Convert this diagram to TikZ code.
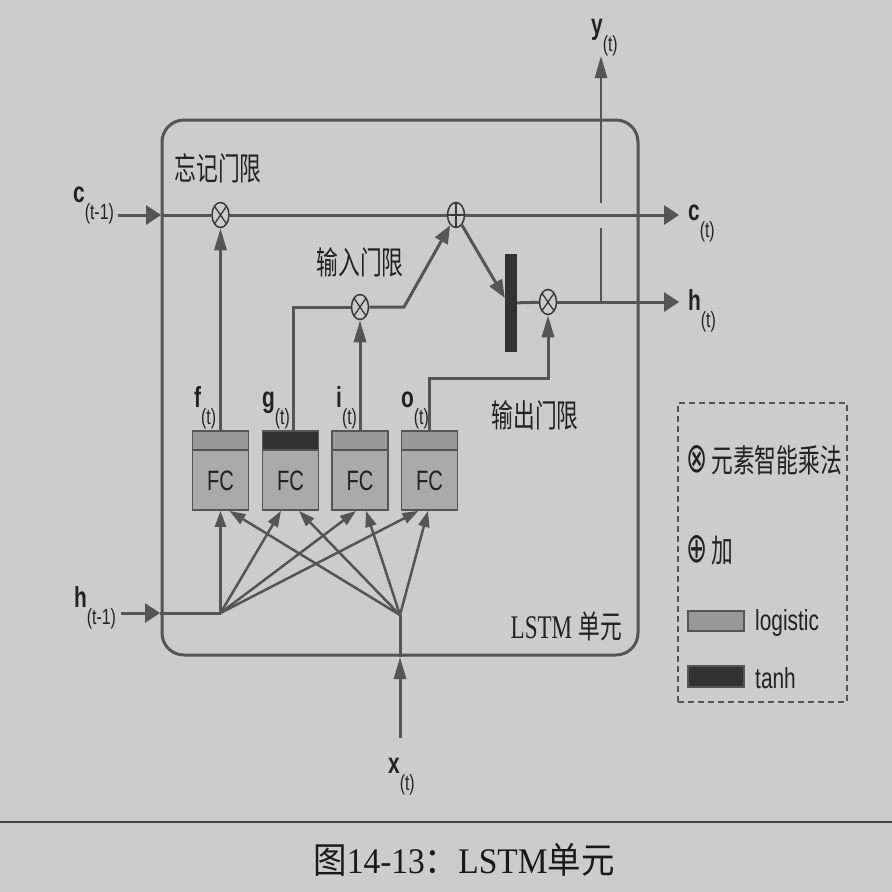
\documentclass[tikz,border=0pt]{standalone}
\usepackage{fontspec}
\usetikzlibrary{arrows.meta,shapes.geometric}
\setmainfont{Liberation Sans}[FakeStretch=0.72]
\newfontfamily\cjk{Noto Sans CJK SC}[FakeStretch=0.68]
\newfontfamily\cjkcap{Noto Sans CJK SC}[FakeStretch=0.93]
\newfontfamily\serifcap{Liberation Serif}[FakeStretch=0.93]
\newfontfamily\serifin{Liberation Serif}[FakeStretch=0.7]
\newfontfamily\symf{DejaVu Sans}[FakeStretch=0.6]
\definecolor{bgc}{RGB}{204,204,204}
\definecolor{lnc}{RGB}{85,85,85}
\definecolor{txc}{RGB}{34,34,34}
\definecolor{fcbody}{RGB}{170,170,170}
\definecolor{logc}{RGB}{152,152,152}
\definecolor{tanhc}{RGB}{50,50,50}
\newcommand\vlab[2]{{\fontsize{29}{29}\selectfont\bfseries #1}\raisebox{-17pt}{\fontsize{22}{22}\selectfont(#2)}}
\newcommand\fcbox[3]{%
  \node[fcstyle] (#1) at (#2,470.5) {};
  \node[bandstyle, fill=#3] (#1b) at (#2,440.5) {};
  \node[fctext] (#1t) at (#2,481) {FC};
}
\begin{document}
\begin{tikzpicture}[x=1pt,y=-1pt,
  ln/.style={line width=3pt, draw=lnc},
  harr/.style={ln, -{Triangle[length=15pt,width=19pt]}},
  varr/.style={ln, -{Triangle[length=22pt,width=12pt]}},
  darr/.style={ln, -{Triangle[length=18pt,width=14pt]}},
  farr/.style={line width=2.5pt, draw=lnc, -{Triangle[length=16pt,width=11pt]}},
  mul/.style={ellipse, draw=txc!90, line width=1.5pt, fill=bgc, minimum width=17pt, minimum height=25pt, inner sep=0pt,
    path picture={\draw[line width=1.3pt, txc!90] (path picture bounding box.north west) -- (path picture bounding box.south east)
      (path picture bounding box.north east) -- (path picture bounding box.south west);}},
  pls/.style={ellipse, draw=txc!90, line width=1.5pt, fill=bgc, minimum width=17pt, minimum height=25pt, inner sep=0pt,
    path picture={\draw[line width=1.3pt, txc!90] (path picture bounding box.north) -- (path picture bounding box.south)
      (path picture bounding box.west) -- (path picture bounding box.east);}},
  fcstyle/.style={draw=lnc, line width=1.8pt, fill=fcbody, minimum width=56pt, minimum height=79pt, inner sep=0pt},
  bandstyle/.style={draw=lnc, line width=1.8pt, minimum width=56pt, minimum height=19pt, inner sep=0pt},
  fctext/.style={inner sep=0pt, text=txc, font=\fontsize{28}{28}\selectfont},
  lbl/.style={inner sep=0pt, text=txc},
  cjkl/.style={inner sep=0pt, text=txc, font=\cjk\fontsize{32}{32}\selectfont}
]
\useasboundingbox (0,0) rectangle (892,892);
\fill[bgc] (0,0) rectangle (892,892);

% LSTM cell frame
\node[draw=lnc, line width=3pt, rounded corners=22pt, minimum width=476pt, minimum height=535pt, inner sep=0pt] (cell) at (400,387.5) {};

% FC boxes
\fcbox{fcf}{220.5}{logc}
\fcbox{fcg}{290.5}{tanhc}
\fcbox{fci}{360}{logc}
\fcbox{fco}{429.5}{logc}

% operators
\node[mul] (fmul) at (220.5,215) {};
\node[pls] (plus) at (456,215) {};
\node[mul] (imul) at (360,307) {};
\node[mul] (omul) at (548,302) {};
\node[fill=tanhc, minimum width=12pt, minimum height=98pt, inner sep=0pt] (bar) at (511,303) {};

% coordinates
\coordinate (cin) at (118,215);
\coordinate (cedge) at (161,215);
\coordinate (cout) at (679,215);
\coordinate (hout) at (679,302);
\coordinate (kin) at (404,307);
\coordinate (oc) at (548,378);
\coordinate (yb) at (601,302);
\coordinate (yg1) at (601,228);
\coordinate (yg2) at (601,203);
\coordinate (yout) at (601,56);
\coordinate (hin) at (121,613);
\coordinate (hedge) at (160,613);
\coordinate (hhub) at (220.5,613);
\coordinate (xin) at (400,738);
\coordinate (xedge) at (400,657);
\coordinate (xhub) at (400,615);

% cell state path
\draw[harr] (cin) -- (cedge);
\draw[ln] (cedge) -- (fmul);
\draw[ln] (fmul) -- (plus);
\draw[harr] (plus) -- (cout);

% gates
\draw[varr] (fcfb.north) -- (fmul);
\draw[ln] ([xshift=2.5pt]fcgb.north) |- (imul);
\draw[varr] (fcib.north) -- (imul);
\draw[darr] (imul) -- (kin) -- (plus);
\draw[varr] (fcob.north) |- (oc) -- (omul);

% output path
\draw[darr] (plus) -- ([yshift=5pt]bar.west);
\draw[ln] (bar) -- (omul);
\draw[harr] (omul) -- (hout);
\draw[line width=2.6pt, draw=lnc] (yb) -- (yg1);
\draw[line width=2.6pt, draw=lnc, -{Triangle[length=22pt,width=12pt]}] (yg2) -- (yout);

% inputs
\draw[harr] (hin) -- (hedge);
\draw[ln] (hedge) -- (hhub);
\draw[varr] (xin) -- (xedge);
\draw[ln] (xedge) -- (xhub);

\draw[farr] (hhub) -- (fcf.south);
\draw[farr] (hhub) -- ([xshift=-9.5pt]fcg.south);
\draw[farr] (hhub) -- ([xshift=-4pt]fci.south);
\draw[farr] (hhub) -- ([xshift=-11pt]fco.south);
\draw[farr] (xhub) -- ([xshift=9pt]fcf.south);
\draw[farr] (xhub) -- ([xshift=8.5pt]fcg.south);
\draw[farr] (xhub) -- ([xshift=6pt]fci.south);
\draw[farr] (xhub) -- ([xshift=-1.5pt]fco.south);

% variable labels
\node[lbl, anchor=base west] (lcin) at (73,202) {\vlab{c}{t-1}};
\node[lbl, anchor=base west] (lhin) at (74,607) {\vlab{h}{t-1}};
\node[lbl, anchor=base west] (lcout) at (688,220) {\vlab{c}{t}};
\node[lbl, anchor=base west] (lhout) at (688,310) {\vlab{h}{t}};
\node[lbl, anchor=base west] (lyout) at (591,34) {\vlab{y}{t}};
\node[lbl, anchor=base west] (lxin) at (388,773) {\vlab{x}{t}};
\node[lbl, anchor=base west] (lf) at (194,407) {\vlab{f}{t}};
\node[lbl, anchor=base west] (lg) at (262,407) {\vlab{g}{t}};
\node[lbl, anchor=base west] (li) at (336,407) {\vlab{i}{t}};
\node[lbl, anchor=base west] (lo) at (401,407) {\vlab{o}{t}};

% gate names
\node[cjkl] (lforget) at (218,168) {忘记门限};
\node[cjkl] (linput) at (360,262) {输入门限};
\node[cjkl] (loutput) at (535,415) {输出门限};
\node[lbl, anchor=east] (lcell) at (622,626) {{\serifin\fontsize{33}{33}\selectfont LSTM}\hspace{6pt}{\cjk\fontsize{32}{32}\selectfont 单元}};

% legend
\node[draw=lnc, line width=1.5pt, dash pattern=on 6pt off 4pt, minimum width=169pt, minimum height=299pt, inner sep=0pt] (legend) at (762.5,552.5) {};
\node[lbl, anchor=west] (lgmul) at (686,460) {{\symf\fontsize{42}{42}\selectfont ⊗}\hspace{4pt}{\cjk\fontsize{32}{32}\selectfont 元素智能乘法}};
\node[lbl, anchor=west] (lgadd) at (686,550) {{\symf\fontsize{42}{42}\selectfont ⊕}\hspace{4pt}{\cjk\fontsize{32}{32}\selectfont 加}};
\node[draw=lnc, line width=1.2pt, fill=logc, minimum width=56pt, minimum height=20pt, inner sep=0pt] (swlog) at (716,621) {};
\node[draw=lnc, line width=1.2pt, fill=tanhc, minimum width=56pt, minimum height=21pt, inner sep=0pt] (swtanh) at (716,676.5) {};
\node[lbl, anchor=base west, font=\fontsize{29}{29}\selectfont] (tlog) at (755,630) {logistic};
\node[lbl, anchor=base west, font=\fontsize{29}{29}\selectfont] (ttanh) at (755,688) {tanh};

% caption
\coordinate (sepl) at (0,822);
\coordinate (sepr) at (892,822);
\draw[line width=2pt, draw=black!75] (sepl) -- (sepr);
\node[inner sep=0pt, text=black!90, font=\fontsize{36}{36}\selectfont] (caption) at (464,860) {{\cjkcap 图}{\serifcap 14-13}{\cjkcap ：}{\serifcap LSTM}{\cjkcap 单元}};
\end{tikzpicture}
\end{document}
